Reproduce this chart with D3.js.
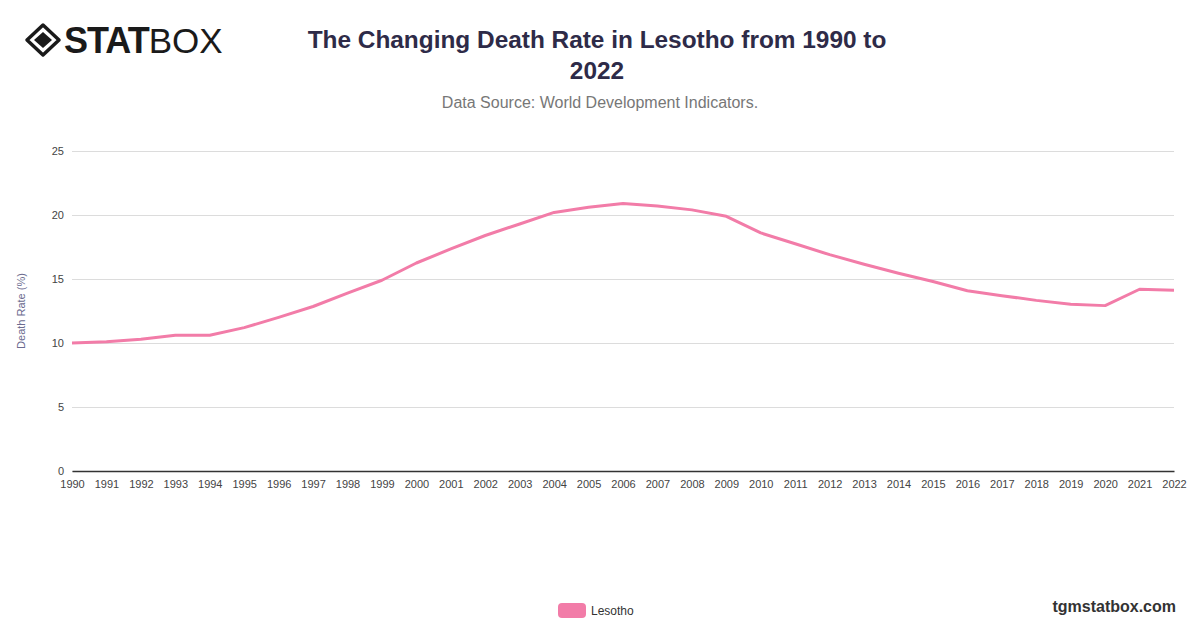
<!DOCTYPE html>
<html>
<head>
<meta charset="utf-8">
<script src="https://cdn.jsdelivr.net/npm/d3@7"></script>
<style>
  body { margin: 0; background: #fff; }
  text { font-family: "Liberation Sans", Arial, sans-serif; }
</style>
</head>
<body>
<script>
// death rate per 1,000 people
const years = d3.range(1990, 2023);
const deathRate = [10.0, 10.1, 10.3, 10.6, 10.6, 11.2, 12.0, 12.85, 13.9, 14.9,
  16.25, 17.35, 18.4, 19.3, 20.2, 20.6, 20.9, 20.7, 20.4, 19.9,
  18.6, 17.75, 16.9, 16.15, 15.45, 14.8, 14.08, 13.7, 13.33, 13.03,
  12.92, 14.2, 14.12];
const yTicks = [0, 5, 10, 15, 20, 25];

const width = 1200;
const height = 628;
const margin = { left: 72, right: 26, top: 151, bottom: 157 };

const svg = d3.select('body').append('svg')
  .attr('width', width)
  .attr('height', height);

const data = years.map((y, i) => ({ year: y, value: deathRate[i] }));

const xScale = d3.scaleLinear()
  .domain([1990, 2022])
  .range([margin.left, width - margin.right]);
const yScale = d3.scaleLinear()
  .domain([0, 25])
  .range([height - margin.bottom, margin.top]);

// gridlines + y labels
const yAxis = d3.axisLeft(yScale)
  .tickValues(yTicks)
  .tickSize(-(width - margin.left - margin.right))
  .tickPadding(8);
svg.append('g')
  .attr('transform', `translate(${margin.left}, 0)`)
  .call(yAxis)
  .call(g => g.select('.domain').remove())
  .call(g => g.selectAll('.tick line').attr('stroke', '#dcdcdc'))
  .call(g => g.selectAll('.tick text')
    .attr('fill', '#444')
    .attr('font-size', 11));

// x axis
const xAxis = d3.axisBottom(xScale)
  .tickValues(years)
  .tickFormat(d3.format('d'))
  .tickSize(0)
  .tickPadding(9);
svg.append('g')
  .attr('transform', `translate(0, ${yScale(0)})`)
  .call(xAxis)
  .call(g => g.select('.domain').attr('stroke', '#333').attr('stroke-width', 1.5))
  .call(g => g.selectAll('.tick text')
    .attr('fill', '#444')
    .attr('font-size', 11));

// the line
const line = d3.line()
  .x(d => xScale(d.year))
  .y(d => yScale(d.value));
svg.append('path')
  .datum(data)
  .attr('fill', 'none')
  .attr('stroke', '#f27ca8')
  .attr('stroke-width', 3)
  .attr('stroke-linejoin', 'round')
  .attr('d', line);

// y axis title
svg.append('text')
  .text('Death Rate (%)')
  .attr('transform', `translate(25, ${(yScale(0) + yScale(25)) / 2}) rotate(-90)`)
  .attr('text-anchor', 'middle')
  .attr('fill', '#6b6b8f')
  .attr('font-size', 11);

// title
const title = svg.append('text')
  .attr('text-anchor', 'middle')
  .attr('fill', '#2e2b48')
  .attr('font-size', 24.4)
  .attr('font-weight', 'bold')
  .attr('font-family', 'Inter, "Liberation Sans", sans-serif');
title.append('tspan').attr('x', 597).attr('y', 48)
  .text('The Changing Death Rate in Lesotho from 1990 to');
title.append('tspan').attr('x', 597).attr('y', 79).text('2022');

svg.append('text')
  .text('Data Source: World Development Indicators.')
  .attr('x', 600)
  .attr('y', 108)
  .attr('text-anchor', 'middle')
  .attr('fill', '#777')
  .attr('font-size', 16);

// legend
svg.append('rect')
  .attr('x', 558).attr('y', 603)
  .attr('width', 28).attr('height', 15)
  .attr('rx', 4)
  .attr('fill', '#f27ca8');
svg.append('text')
  .text('Lesotho')
  .attr('x', 591).attr('y', 615)
  .attr('fill', '#333')
  .attr('font-size', 12);

// footer
svg.append('text')
  .text('tgmstatbox.com')
  .attr('x', 1176).attr('y', 612)
  .attr('text-anchor', 'end')
  .attr('fill', '#333')
  .attr('font-weight', 'bold')
  .attr('font-size', 16);

// logo
const logo = svg.append('g').attr('transform', 'translate(43, 40)');
logo.append('path')
  .attr('d', 'M0,-15 L16,0 L0,15 L-16,0 Z')
  .attr('fill', 'none')
  .attr('stroke', '#1a1a1a')
  .attr('stroke-width', 3.5)
  .attr('stroke-linejoin', 'round');
logo.append('path')
  .attr('d', 'M0,-8 L9,0 L0,8 L-9,0 Z')
  .attr('fill', '#1a1a1a');
const logoText = svg.append('text')
  .attr('x', 64).attr('y', 53)
  .attr('fill', '#1a1a1a')
  .attr('font-size', 36)
  .attr('font-family', '"DejaVu Sans", sans-serif');
logoText.append('tspan').text('STAT')
  .attr('font-weight', 'bold')
  .attr('letter-spacing', -1);
logoText.append('tspan').text('BOX')
  .attr('font-weight', 'normal')
  .attr('font-family', '"Liberation Sans", sans-serif')
  .attr('font-size', 35);
</script>
</body>
</html>
